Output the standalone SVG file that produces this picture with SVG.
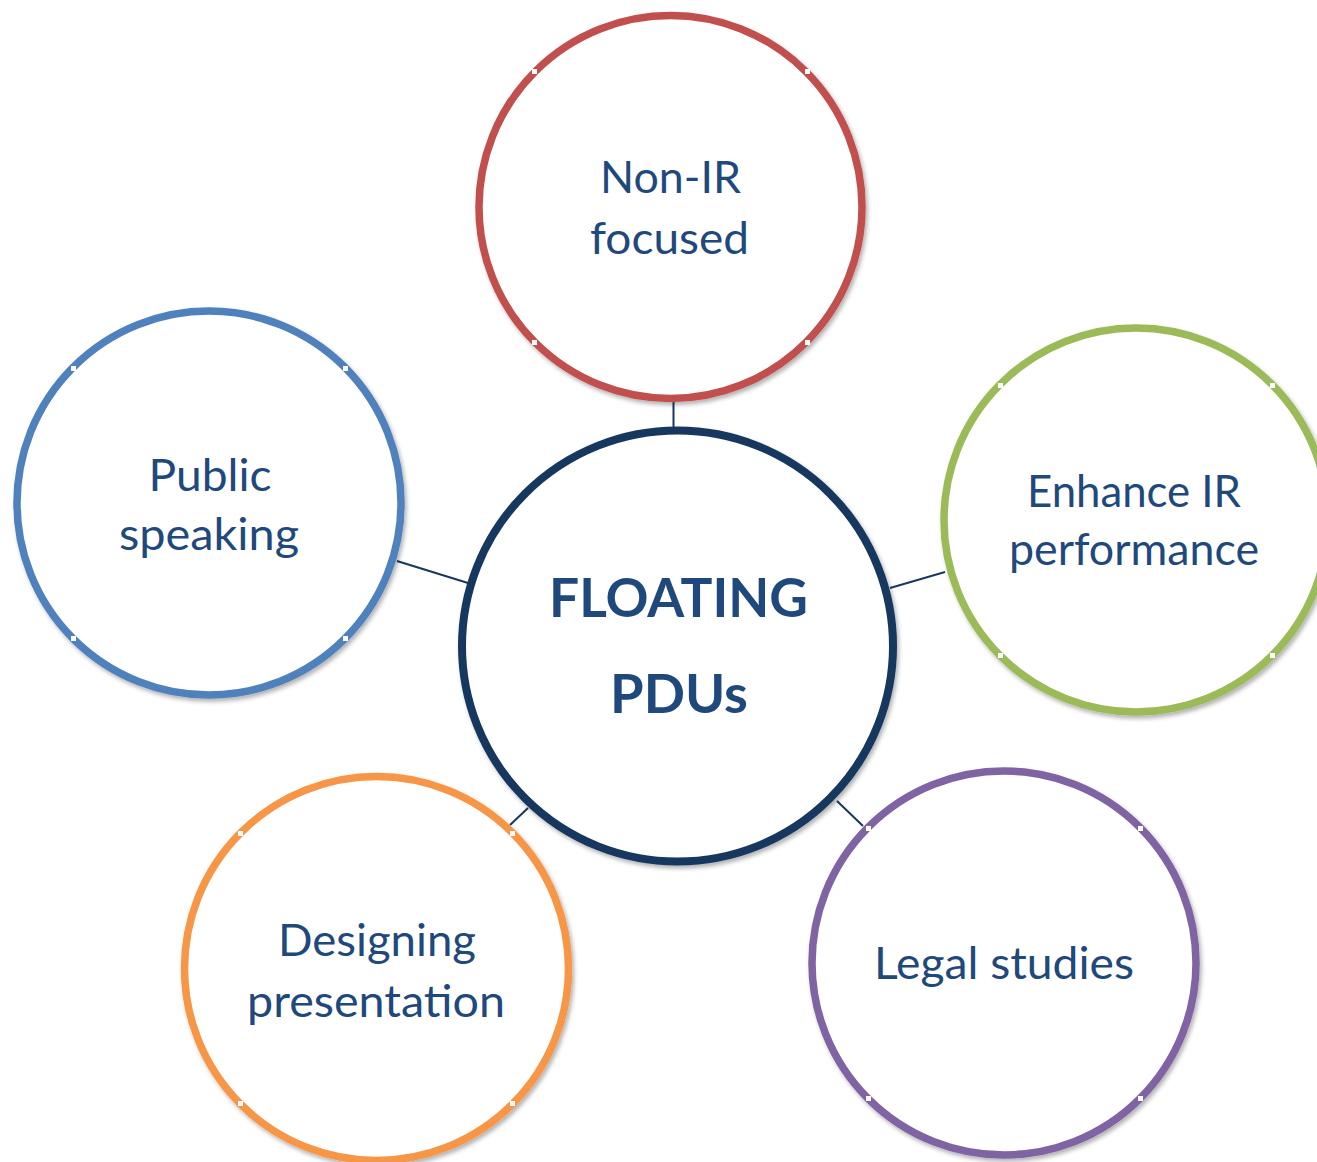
<svg xmlns="http://www.w3.org/2000/svg" width="1317" height="1162" viewBox="0 0 1317 1162">
  <style>
    .node { fill: #FFFFFF; stroke-width: 7.5; filter: url(#sh); }
    .lbl { font-family: Lato, "Open Sans", "Liberation Sans", sans-serif; font-size: 44px; fill: #1F497D; text-anchor: middle; }
    .big { font-family: Lato, "Open Sans", "Liberation Sans", sans-serif; font-size: 54px; font-weight: bold; fill: #1F497D; text-anchor: middle; }
    .conn line { stroke: #17375E; stroke-width: 2; }
    .notch { fill: #FFFFFF; }
  </style>
  <defs>
    <filter id="sh" x="-10%" y="-10%" width="125%" height="125%">
      <feDropShadow dx="2" dy="3" stdDeviation="2" flood-color="#000000" flood-opacity="0.3"/>
    </filter>
  </defs>
  <rect x="0" y="0" width="1317" height="1162" fill="#FFFFFF"/>

  <g id="connectors" class="conn">
    <line x1="673.5" y1="401" x2="673.5" y2="428"/>
    <line x1="397" y1="561" x2="468" y2="583"/>
    <line x1="890" y1="588" x2="945" y2="572"/>
    <line x1="510" y1="825" x2="528" y2="808"/>
    <line x1="837" y1="801" x2="863" y2="826"/>
  </g>

  <g id="node-center">
    <circle class="node" cx="677.5" cy="646" r="215.5" stroke="#17375E" style="stroke-width:8"/>
    <text class="big" x="678.5" y="617" textLength="259" lengthAdjust="spacingAndGlyphs">FLOATING</text>
    <text class="big" x="679" y="713" textLength="138" lengthAdjust="spacingAndGlyphs">PDUs</text>
  </g>

  <g id="node-top">
    <circle class="node" cx="670.5" cy="207" r="191.5" stroke="#C0504D"/>
    <rect class="notch" x="532" y="69" width="5" height="5"/>
    <rect class="notch" x="805" y="69" width="5" height="5"/>
    <rect class="notch" x="532" y="340" width="5" height="5"/>
    <rect class="notch" x="805" y="340" width="5" height="5"/>
    <text class="lbl" x="670.5" y="193" textLength="141" lengthAdjust="spacingAndGlyphs">Non-IR</text>
    <text class="lbl" x="669.5" y="254" textLength="159" lengthAdjust="spacingAndGlyphs">focused</text>
  </g>

  <g id="node-left">
    <circle class="node" cx="209" cy="503" r="192" stroke="#4F81BD"/>
    <rect class="notch" x="71" y="366" width="5" height="5"/>
    <rect class="notch" x="343" y="366" width="5" height="5"/>
    <rect class="notch" x="71" y="636" width="5" height="5"/>
    <rect class="notch" x="343" y="636" width="5" height="5"/>
    <text class="lbl" x="210" y="491" textLength="123" lengthAdjust="spacingAndGlyphs">Public</text>
    <text class="lbl" x="209" y="550" textLength="180" lengthAdjust="spacingAndGlyphs">speaking</text>
  </g>

  <g id="node-right">
    <circle class="node" cx="1136" cy="520" r="192" stroke="#9BBB59"/>
    <rect class="notch" x="998" y="383" width="5" height="5"/>
    <rect class="notch" x="1270" y="383" width="5" height="5"/>
    <rect class="notch" x="998" y="653" width="5" height="5"/>
    <rect class="notch" x="1270" y="653" width="5" height="5"/>
    <text class="lbl" x="1134" y="507" textLength="214" lengthAdjust="spacingAndGlyphs">Enhance IR</text>
    <text class="lbl" x="1134" y="565" textLength="250" lengthAdjust="spacingAndGlyphs">performance</text>
  </g>

  <g id="node-bottom-left">
    <circle class="node" cx="376.5" cy="968.5" r="192" stroke="#F79646"/>
    <rect class="notch" x="238" y="831" width="5" height="5"/>
    <rect class="notch" x="510" y="831" width="5" height="5"/>
    <rect class="notch" x="238" y="1101" width="5" height="5"/>
    <rect class="notch" x="510" y="1101" width="5" height="5"/>
    <text class="lbl" x="377" y="956" textLength="198" lengthAdjust="spacingAndGlyphs">Designing</text>
    <text class="lbl" x="376" y="1017" textLength="258" lengthAdjust="spacingAndGlyphs">presentation</text>
  </g>

  <g id="node-bottom-right">
    <circle class="node" cx="1004" cy="963" r="192" stroke="#8064A2"/>
    <rect class="notch" x="866" y="826" width="5" height="5"/>
    <rect class="notch" x="1138" y="826" width="5" height="5"/>
    <rect class="notch" x="866" y="1096" width="5" height="5"/>
    <rect class="notch" x="1138" y="1096" width="5" height="5"/>
    <text class="lbl" x="1004" y="979" textLength="260" lengthAdjust="spacingAndGlyphs">Legal studies</text>
  </g>
</svg>
